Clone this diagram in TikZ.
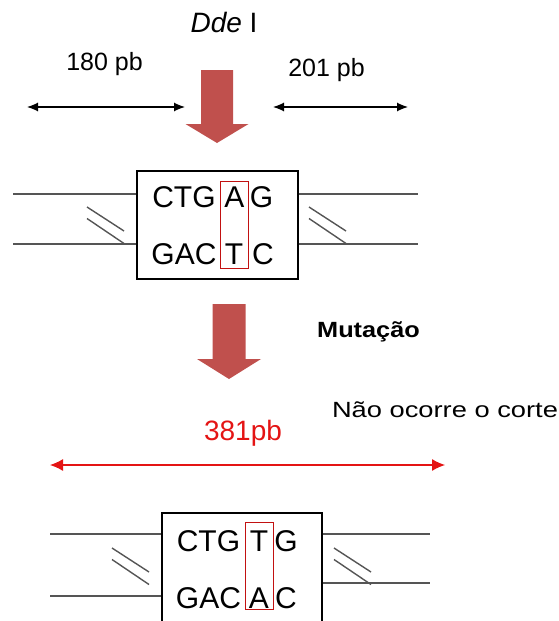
\documentclass[tikz,border=0pt]{standalone}
\usepackage{fontspec}
\setmainfont{Liberation Sans}
\usepackage{graphicx}
\usetikzlibrary{arrows.meta}

\definecolor{arrowred}{RGB}{192,80,77}
\definecolor{sizered}{RGB}{228,20,20}
\definecolor{strandgray}{RGB}{85,85,85}

\newcommand{\wide}[2]{\scalebox{#1}[1]{#2}}
\newcommand{\breakmark}[2]{%
  \draw[strand] (#1,#2) -- ++(37,24);
  \draw[strand] (#1,#2+11.5) -- ++(37,25);}
\newcommand{\bigarrow}[6]{%
  \fill[arrowred] ({#1-#5},#2) -- ({#1+#5},#2) -- ({#1+#5},#3) -- ({#1+#6},#3)
    -- (#1,#4) -- ({#1-#6},#3) -- ({#1-#5},#3) -- cycle;}

\begin{document}
\begin{tikzpicture}[x=1pt,y=-1pt]

\tikzset{seqbox/.style = {draw,line width=1.3pt,minimum width=161pt,minimum height=108pt,inner sep=0pt}}
\tikzset{sitebox/.style = {draw=sizered!85!black,line width=0.9pt,minimum width=27pt,minimum height=87pt,inner sep=0pt}}
\tikzset{letter/.style = {inner sep=0pt,font=\fontsize{30}{30}\selectfont}}
\tikzset{txt/.style = {inner sep=0pt,anchor=base}}
\tikzset{strand/.style = {strandgray,line width=1.4pt}}
\tikzset{span/.style = {<->,>={Latex[length=11pt,width=9pt]},line width=1.2pt}}

\useasboundingbox (0,0) rectangle (559,621);

% labels
\node[txt,font=\fontsize{28}{28}\selectfont] (enzyme) at (224,32) {\textit{Dde} I};
\node[txt,font=\fontsize{25}{25}\selectfont] (left) at (104.5,70) {180 pb};
\node[txt,font=\fontsize{25}{25}\selectfont] (right) at (326.5,76) {201 pb};
\node[txt,font=\fontsize{22}{22}\selectfont\bfseries] (mut) at (368.5,337) {\wide{1.15}{Mutação}};
\node[txt,font=\fontsize{22}{22}\selectfont] (nocut) at (445,417) {\wide{1.24}{Não ocorre o corte}};
\node[txt,font=\fontsize{28}{28}\selectfont,text=sizered] (total) at (243,440) {381pb};

% fragment sizes
\coordinate (s1) at (27,107);
\coordinate (s2) at (185,107);
\coordinate (s3) at (273,107);
\coordinate (s4) at (408,107);
\coordinate (s5) at (50,465);
\coordinate (s6) at (445,465);
\draw[span] (s1) -- (s2);
\draw[span] (s3) -- (s4);
\draw[span,sizered,>={Latex[length=13pt,width=12pt]}] (s5) -- (s6);

% big arrows
\bigarrow{217}{70}{124}{143}{16}{31.5}
\bigarrow{229}{304}{359}{379}{16.5}{32}

% site before
\node[seqbox] (box1) at (217.5,225) {};
\node[sitebox,minimum width=28pt] (mark1) at (234,225) {};
\node[letter] (t1) at (184,197) {CTG};
\node[letter] (t2) at (234.5,197) {A};
\node[letter] (t3) at (261.5,197) {G};
\node[letter] (b1) at (184,254) {GAC};
\node[letter] (b2) at (234,254) {T};
\node[letter] (b3) at (263,254) {C};

% site after
\node[seqbox,minimum width=160pt,minimum height=114pt] (box2) at (242,570) {};
\node[sitebox,minimum width=28pt] (mark2) at (259,565.5) {};
\node[letter] (u1) at (208.5,541) {CTG};
\node[letter] (u2) at (259,541) {T};
\node[letter] (u3) at (286,541) {G};
\node[letter] (v1) at (208.5,598) {GAC};
\node[letter] (v2) at (259,598) {A};
\node[letter] (v3) at (286,598) {C};

% strands
\coordinate (p1) at (13,194);
\coordinate (p2) at (13,244);
\coordinate (p3) at (418,194);
\coordinate (p4) at (418,244);
\coordinate (q1) at (50,534);
\coordinate (q2) at (50,596);
\coordinate (q3) at (430,534);
\coordinate (q4) at (430,583);
\draw[strand] (p1) -- (p1 -| box1.west);
\draw[strand] (p2) -- (p2 -| box1.west);
\draw[strand] (box1.east |- p3) -- (p3);
\draw[strand] (box1.east |- p4) -- (p4);
\draw[strand] (q1) -- (q1 -| box2.west);
\draw[strand] (q2) -- (q2 -| box2.west);
\draw[strand] (box2.east |- q3) -- (q3);
\draw[strand] (box2.east |- q4) -- (q4);

% breaks
\breakmark{87}{207}
\breakmark{309}{207}
\breakmark{112}{548}
\breakmark{334}{548}

\end{tikzpicture}
\end{document}
